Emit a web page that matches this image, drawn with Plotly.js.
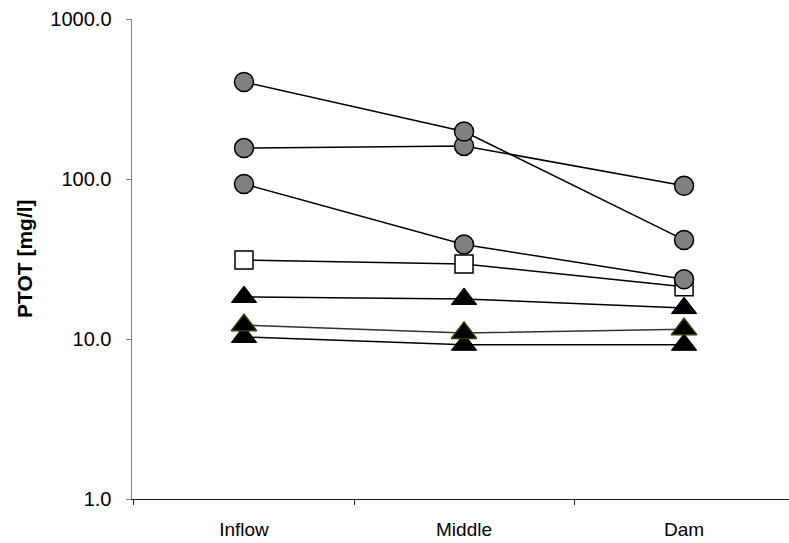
<!DOCTYPE html>
<html>
<head>
<meta charset="utf-8">
<script src="https://cdn.plot.ly/plotly-3.0.1.min.js"></script>
<style>html,body{margin:0;padding:0;background:#fff;}#chart{width:789px;height:543px;}</style>
</head>
<body>
<div id="chart"></div>
<script>
const sites = ["Inflow", "Middle", "Dam"];
const yTickVals = [1, 10, 100, 1000];
const yTickText = ["1.0", "10.0", "100.0", "1000.0"];
const yTitle = "PTOT [mg/l]";

// circles (grey)
const circleA = [404, 198, 41.6];
const circleB = [156, 161, 90.8];
const circleC = [93, 39, 23.6];
// squares (white)
const squareA = [31.2, 29.4, 21.2];
// triangles (black)
const triA = [18.3, 17.8, 15.6];
const triOlive = [12.2, 10.9, 11.5];
const triB = [10.3, 9.2, 9.2];

function tr(y, symbol, size, fill, lineCol, lineW, pathCol) {
  return {
    x: sites, y: y, type: "scatter", mode: "lines+markers",
    line: {color: pathCol, width: 1.5},
    marker: {symbol: symbol, size: size, color: fill, line: {color: lineCol, width: lineW}},
    hoverinfo: "x+y", showlegend: false, cliponaxis: false
  };
}

const data = [
  tr(triB, "triangle-up", 22, "#000000", "#000000", 1, "#000000"),
  tr(triOlive, "triangle-up", 22, "#000000", "#3a3a00", 1.5, "#333333"),
  tr(triA, "triangle-up", 22, "#000000", "#000000", 1, "#000000"),
  tr(squareA, "square", 18, "#ffffff", "#000000", 1.5, "#000000"),
  tr(circleC, "circle", 19, "#808080", "#000000", 1.5, "#000000"),
  tr(circleB, "circle", 19, "#808080", "#000000", 1.5, "#000000"),
  tr(circleA, "circle", 19, "#808080", "#000000", 1.5, "#000000")
];

const plotLeft = 132, plotRight = 789, plotTop = 19, plotBottom = 499;
const layout = {
  width: 789, height: 543,
  margin: {l: plotLeft, r: 789 - plotRight, t: plotTop, b: 543 - plotBottom, pad: 0},
  paper_bgcolor: "#ffffff", plot_bgcolor: "#ffffff",
  font: {family: "Liberation Sans, Arial, sans-serif", color: "#000000", size: 20},
  showlegend: false,
  xaxis: {
    type: "category",
    range: [-0.509, 2.477],
    automargin: false,
    tickson: "boundaries",
    ticks: "outside", ticklen: 5, tickcolor: "#222222", tickwidth: 1,
    showline: true, linecolor: "#222222", linewidth: 1.2,
    showgrid: false, zeroline: false,
    tickfont: {size: 19, family: "Liberation Sans, Arial, sans-serif"},
    ticklabelstandoff: 13
  },
  yaxis: {
    type: "log",
    range: [0, 3],
    automargin: false,
    tickvals: yTickVals, ticktext: yTickText,
    ticks: "outside", ticklen: 5, tickcolor: "#808080", tickwidth: 1,
    showline: true, linecolor: "#808080", linewidth: 1.5,
    showgrid: false, zeroline: false,
    tickfont: {size: 20, family: "Liberation Sans, Arial, sans-serif"},
    ticklabelstandoff: 10
  },
  annotations: [{
    text: "<b>" + yTitle + "</b>",
    xref: "paper", yref: "paper",
    x: (24 - plotLeft) / (plotRight - plotLeft),
    y: (plotBottom - 259) / (plotBottom - plotTop),
    xanchor: "center", yanchor: "middle",
    textangle: -90, showarrow: false,
    font: {size: 21, family: "Liberation Sans, Arial, sans-serif", color: "#000000"}
  }]
};

Plotly.newPlot("chart", data, layout, {displayModeBar: false, staticPlot: true});
</script>
</body>
</html>
